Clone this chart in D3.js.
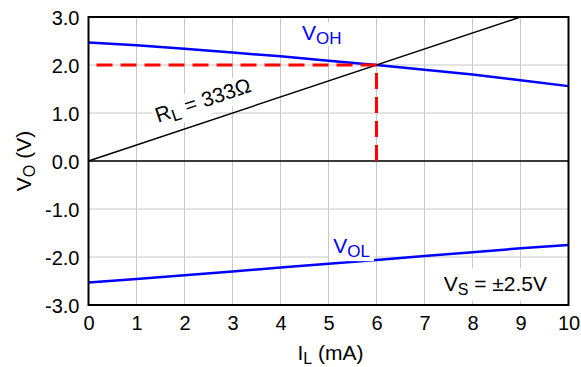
<!DOCTYPE html>
<html>
<head>
<meta charset="utf-8">
<script src="https://cdn.jsdelivr.net/npm/d3@7/dist/d3.min.js"></script>
<style>
  html, body { margin: 0; padding: 0; background: #fff; }
  svg { display: block; font-family: Arial, "Liberation Sans", sans-serif; }
</style>
</head>
<body>
<svg id="chart" width="581" height="367"></svg>
<script>
// ---- data ----
const loadCurrent = [0, 1, 2, 3, 4, 5, 6, 7, 8, 9, 10];            // mA
const vOH = [2.47, 2.41, 2.34, 2.26, 2.18, 2.09, 2.00, 1.90, 1.80, 1.68, 1.56];
const vOL = [-2.53, -2.46, -2.38, -2.30, -2.22, -2.14, -2.06, -1.98, -1.90, -1.82, -1.75];
const rlCurrent = [0, 9];       // load line R_L = 333 ohm
const rlVoltage = [0, 3];
const opCurrent = 6;            // operating point
const opVoltage = 2;
const xTicks = [0, 1, 2, 3, 4, 5, 6, 7, 8, 9, 10];
const yTicks = [-3, -2, -1, 0, 1, 2, 3];
const yTickLabels = ["-3.0", "-2.0", "-1.0", "0.0", "1.0", "2.0", "3.0"];

// ---- layout ----
const svg = d3.select("#chart");
const L = 88.5, R = 568.5, T = 17, B = 305;
const x = d3.scaleLinear().domain([0, 10]).range([L, R]);
const y = d3.scaleLinear().domain([-3, 3]).range([B, T]);
const FS = 20;

// grid
const grid = svg.append("g");
grid.selectAll("line.vg").data(xTicks.slice(1, -1)).join("line")
  .attr("x1", d => x(d)).attr("x2", d => x(d)).attr("y1", T).attr("y2", B)
  .attr("stroke", "#c8c8c8").attr("stroke-width", 1);
grid.selectAll("line.hg").data(yTicks.slice(1, -1)).join("line")
  .attr("x1", L).attr("x2", R).attr("y1", d => y(d)).attr("y2", d => y(d))
  .attr("stroke", "#c8c8c8").attr("stroke-width", 1);

// zero line
svg.append("line").attr("x1", L).attr("x2", R).attr("y1", y(0)).attr("y2", y(0))
  .attr("stroke", "#000").attr("stroke-width", 1.3);

// axes (labels only)
const xAxis = d3.axisBottom(x).tickValues(xTicks).tickFormat(d3.format("d")).tickSize(0).tickPadding(11);
const yAxis = d3.axisLeft(y).tickValues(yTicks).tickFormat((d, i) => yTickLabels[i]).tickSize(0).tickPadding(9);
const gx = svg.append("g").attr("transform", `translate(0,${B})`).call(xAxis);
const gy = svg.append("g").attr("transform", `translate(${L},0)`).call(yAxis);
[gx, gy].forEach(g => {
  g.select(".domain").remove();
  g.selectAll("text").attr("font-size", FS).attr("font-family", "Arial, 'Liberation Sans', sans-serif").attr("fill", "#000");
});
gy.selectAll("text").attr("dy", "0.36em");

// curves
const line = d3.line().x(d => x(d[0])).y(d => y(d[1]));
svg.append("path").datum(d3.zip(loadCurrent, vOH)).attr("d", line)
  .attr("fill", "none").attr("stroke", "#0000ff").attr("stroke-width", 2.5);
svg.append("path").datum(d3.zip(loadCurrent, vOL)).attr("d", line)
  .attr("fill", "none").attr("stroke", "#0000ff").attr("stroke-width", 2.5);
svg.append("path").datum(d3.zip(rlCurrent, rlVoltage)).attr("d", line)
  .attr("fill", "none").attr("stroke", "#000").attr("stroke-width", 1.5);

// red dashed operating point guides
svg.append("path").datum([[opCurrent, opVoltage], [0, opVoltage]]).attr("d", line)
  .attr("fill", "none").attr("stroke", "#ff0000").attr("stroke-width", 3).attr("stroke-dasharray", "16,8");
svg.append("path").datum([[opCurrent, 0], [opCurrent, opVoltage]]).attr("d", line)
  .attr("fill", "none").attr("stroke", "#ff0000").attr("stroke-width", 3).attr("stroke-dasharray", "16,8");

// frame
svg.append("rect").attr("x", L).attr("y", T).attr("width", R - L).attr("height", B - T)
  .attr("fill", "none").attr("stroke", "#000").attr("stroke-width", 2);

// helper: text with subscript and white background
function subLabel(g, main, sub, rest, opts) {
  const t = g.append("text").attr("font-size", opts.fs).attr("fill", opts.color || "#000")
    .attr("text-anchor", opts.anchor || "start");
  t.append("tspan").text(main);
  t.append("tspan").text(sub).attr("font-size", opts.subfs).attr("dy", opts.subdy);
  if (rest) t.append("tspan").text(rest).attr("dy", -opts.subdy);
  if (opts.bg) {
    const bb = t.node().getBBox();
    g.insert("rect", "text").attr("x", bb.x - opts.bg[0]).attr("y", bb.y - opts.bg[1])
      .attr("width", bb.width + 2 * opts.bg[0]).attr("height", bb.height + 2 * opts.bg[1]).attr("fill", "#fff");
  }
  return t;
}

// V_OH label
subLabel(svg.append("g").attr("transform", `translate(${x(4.45)},${y(2.53)})`),
  "V", "OH", null, {fs: 21, subfs: 17, subdy: 4, color: "#0000ff", bg: [1, -2]});
// V_OL label
subLabel(svg.append("g").attr("transform", `translate(${x(5.1)},${y(-1.92)})`),
  "V", "OL", null, {fs: 21, subfs: 17, subdy: 4, color: "#0000ff", bg: [4, 0]});
// R_L label (rotated along load line)
const ang = Math.atan2(y(rlVoltage[1]) - y(rlVoltage[0]), x(rlCurrent[1]) - x(rlCurrent[0])) * 180 / Math.PI;
subLabel(svg.append("g").attr("transform", `translate(${x(1.45)},${y(1.45 / 3) - 15}) rotate(${ang})`),
  "R", "L", " = 333Ω", {fs: 21, subfs: 17, subdy: 4, bg: [2, 0]});
// V_S label
subLabel(svg.append("g").attr("transform", `translate(${x(7.4)},${y(-2.7)})`),
  "V", "S", " = ±2.5V", {fs: 21, subfs: 16, subdy: 4, bg: [5, 3]});

// axis titles
subLabel(svg.append("g").attr("transform", `translate(${(L + R) / 2 + 2},${B + 55})`),
  "I", "L", " (mA)", {fs: 21, subfs: 16, subdy: 4, anchor: "middle"});
subLabel(svg.append("g").attr("transform", `translate(31,${(T + B) / 2}) rotate(-90)`),
  "V", "O", " (V)", {fs: 21, subfs: 16, subdy: 4, anchor: "middle"});
</script>
</body>
</html>
